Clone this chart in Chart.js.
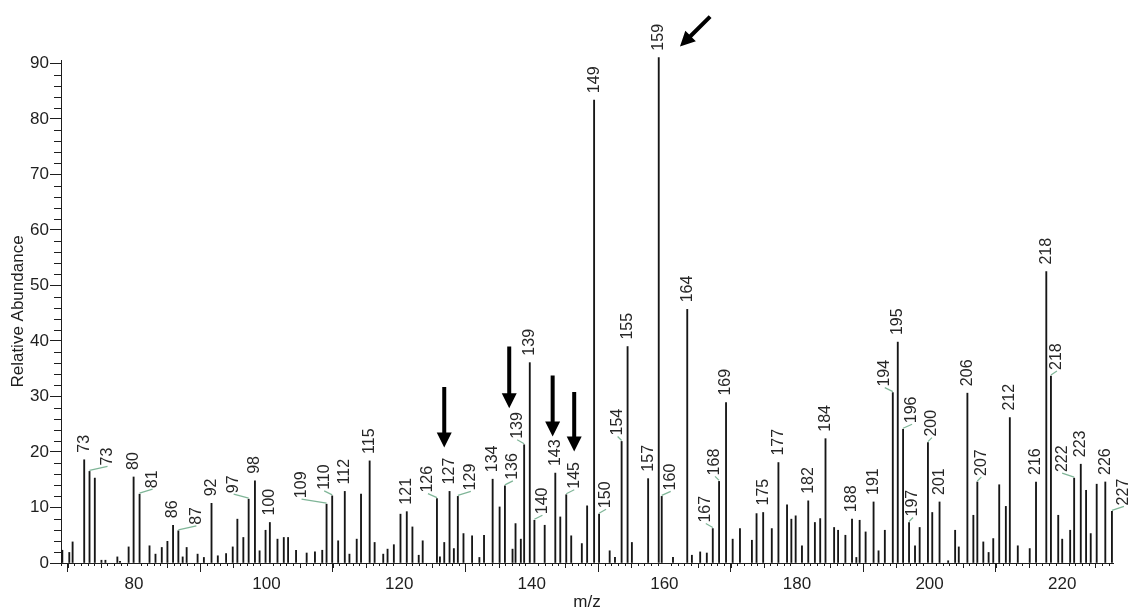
<!DOCTYPE html>
<html>
<head>
<meta charset="utf-8">
<title>Mass spectrum</title>
<script src="https://cdn.jsdelivr.net/npm/chart.js@4.4.1/dist/chart.umd.min.js"></script>
<style>
  html, body { margin: 0; padding: 0; background: #fff; }
  #chart { display: block; }
</style>
</head>
<body>
<canvas id="chart" width="1128" height="611"></canvas>
<script>
// peak positions (m/z) and heights (relative abundance)
const mz = [
  69.2, 70.25, 70.75, 72.5, 73.3, 74.1, 75.1, 75.7, 77.5, 77.9,
  79.2, 79.95, 80.85, 82.35, 83.25, 84.2, 85.05, 85.9, 86.7, 87.35,
  87.95, 89.6, 90.55, 91.7, 92.65, 93.9, 94.9, 95.6, 96.5, 97.3,
  98.25, 98.95, 99.85, 100.5, 101.65, 102.6, 103.25, 104.45, 106.05, 107.3,
  108.4, 109.05, 109.9, 110.8, 111.8, 112.5, 113.6, 114.25, 115.55, 116.3,
  117.6, 118.25, 119.2, 120.2, 121.15, 122.0, 122.95, 123.55, 125.7, 126.15,
  126.8, 127.6, 128.25, 128.85, 129.7, 131.0, 132.1, 132.8, 134.1, 135.15,
  135.95, 137.1, 137.55, 138.35, 138.85, 139.7, 140.4, 141.95, 143.55, 144.3,
  145.2, 145.95, 147.55, 148.35, 149.4, 150.15, 151.75, 152.55, 153.55, 154.45,
  155.1, 157.55, 159.15, 159.6, 161.3, 163.45, 164.15, 165.4, 166.4, 167.3,
  168.25, 169.3, 170.3, 171.4, 173.2, 173.9, 174.9, 176.2, 177.2, 178.5,
  179.15, 179.8, 180.75, 181.7, 182.7, 183.5, 184.3, 185.6, 186.2, 187.3,
  188.3, 188.95, 189.45, 190.35, 191.55, 192.3, 193.25, 194.45, 195.2, 196.0,
  196.9, 197.8, 198.5, 199.75, 200.4, 201.5, 202.8, 203.85, 204.4, 205.7,
  206.6, 207.2, 208.1, 208.9, 209.6, 210.5, 211.5, 212.1, 213.3, 215.1,
  216.05, 217.6, 218.3, 219.4, 220.0, 221.2, 221.8, 222.8, 223.6, 224.3,
  225.2, 226.5, 227.5
];
const abundance = [
  2.3, 1.9, 3.8, 18.6, 16.5, 15.3, 0.5, 0.5, 1.1, 0.3,
  2.9, 15.5, 12.4, 3.1, 1.6, 2.8, 3.9, 6.8, 5.8, 1.1,
  2.8, 1.6, 1.0, 10.75, 1.3, 1.7, 2.9, 7.9, 4.6, 11.5,
  14.8, 2.2, 5.9, 7.3, 4.3, 4.6, 4.6, 2.3, 1.8, 2.0,
  2.3, 10.6, 12.1, 4.0, 12.9, 1.6, 4.3, 12.4, 18.4, 3.7,
  1.6, 2.5, 3.3, 8.8, 9.25, 6.5, 1.4, 4.0, 11.6, 1.1,
  3.7, 12.9, 2.6, 12.0, 5.3, 4.9, 1.0, 5.0, 15.1, 10.1,
  13.9, 2.5, 7.1, 4.3, 21.3, 36.1, 7.7, 6.8, 16.2, 8.3,
  12.3, 4.9, 3.5, 10.3, 83.4, 8.8, 2.2, 1.0, 21.9, 39.0,
  3.7, 15.2, 91.05, 12.0, 1.0, 45.7, 1.4, 2.0, 1.8, 6.2,
  14.7, 28.9, 4.3, 6.2, 4.1, 8.9, 9.1, 6.2, 18.1, 10.5,
  7.9, 8.5, 3.1, 11.2, 7.3, 8.0, 22.4, 6.4, 5.9, 5.0,
  7.9, 1.0, 7.7, 5.6, 11.0, 2.2, 5.9, 30.7, 39.8, 24.1,
  7.3, 3.1, 6.4, 21.7, 9.1, 11.0, 0.4, 5.9, 2.9, 30.6,
  8.6, 14.6, 3.8, 1.9, 4.4, 14.1, 10.2, 26.2, 3.1, 2.6,
  14.6, 52.5, 33.7, 8.6, 4.3, 5.9, 15.3, 17.8, 13.1, 5.3,
  14.2, 14.6, 9.3
];

// annotated peaks and the text printed above them
const labelMz = [
  72.5, 73.3, 79.95, 80.85, 85.9, 86.7, 91.7, 97.3, 98.25, 100.5,
  109.05, 109.9, 111.8, 115.55, 121.15, 125.7, 127.6, 128.85, 134.1, 135.95,
  138.85, 139.7, 140.4, 143.55, 145.2, 149.4, 150.15, 153.55, 154.45, 157.55,
  159.15, 159.6, 163.45, 167.3, 168.25, 169.3, 174.9, 177.2, 181.7, 184.3,
  188.3, 191.55, 194.45, 195.2, 196.0, 196.9, 199.75, 201.5, 205.7, 207.2,
  212.1, 216.05, 217.6, 218.3, 221.8, 222.8, 226.5, 227.5
];
const labelText = [
  "73", "73", "80", "81", "86", "87", "92", "97", "98", "100",
  "109", "110", "112", "115", "121", "126", "127", "129", "134", "136",
  "139", "139", "140", "143", "145", "149", "150", "154", "155", "157",
  "159", "160", "164", "167", "168", "169", "175", "177", "182", "184",
  "188", "191", "194", "195", "196", "197", "200", "201", "206", "207",
  "212", "216", "218", "218", "222", "223", "226", "227"
];

// black arrows, tail -> head (m/z, abundance)
const arrowTailX = [126.8, 136.6, 143.15, 146.4, 166.9];
const arrowTailY = [31.7, 39.0, 33.8, 30.8, 98.45];
const arrowHeadX = [126.8, 136.6, 143.15, 146.4, 162.35];
const arrowHeadY = [20.8, 27.9, 22.8, 20.1, 93.05];

// labels pushed sideways (px) and tied to their peak with a green leader
const leaderShift = {
  73.3: 18, 80.85: 13, 86.7: 18, 97.3: -15, 109.05: -25, 109.9: -8,
  125.7: -9, 128.85: 13, 135.95: 8, 138.85: -7, 140.4: 8, 145.2: 8,
  150.15: 7, 153.55: -4, 159.6: 9, 167.3: -7, 168.25: -4, 194.45: -8,
  196: 9, 196.9: 4, 199.75: 4, 207.2: 4, 218.3: 6, 221.8: -12, 227.5: 12
};

const FONT = '"Liberation Sans", Arial, sans-serif';
const INK = "#1e1e1e";

/* minor / medium tick marks on both axes */
const minorTicks = {
  id: "minorTicks",
  afterDraw(chart) {
    const { ctx, chartArea: a, scales: { x, y } } = chart;
    ctx.save();
    ctx.strokeStyle = INK;
    ctx.lineWidth = 1;
    ctx.beginPath();
    for (let m = Math.ceil(x.min); m <= x.max; m++) {
      if (m % 20 === 0) continue;
      const len = m % 5 === 0 ? 5 : 3;
      const px = Math.round(x.getPixelForValue(m)) + 0.5;
      ctx.moveTo(px, a.bottom);
      ctx.lineTo(px, a.bottom + len);
    }
    for (let v = 2; v <= y.max; v += 2) {
      if (v % 10 === 0) continue;
      const py = Math.round(y.getPixelForValue(v)) + 0.5;
      ctx.moveTo(a.left - 7, py);
      ctx.lineTo(a.left, py);
    }
    ctx.stroke();
    ctx.restore();
  }
};

/* vertical peak labels, some with green leader lines */
const peakLabels = {
  id: "peakLabels",
  afterDatasetsDraw(chart) {
    const { ctx, scales: { x, y } } = chart;
    ctx.save();
    ctx.font = "16px " + FONT;
    ctx.fillStyle = "#262626";
    ctx.textAlign = "left";
    ctx.textBaseline = "middle";
    labelMz.forEach((m, i) => {
      const px = x.getPixelForValue(m);
      const top = y.getPixelForValue(abundance[mz.indexOf(m)]);
      const shift = leaderShift[m] || 0;
      const lx = px + shift;
      let base = top - 7;
      if (shift) {
        base = top - 6;
        ctx.strokeStyle = "#7fb597";
        ctx.lineWidth = 1.2;
        ctx.beginPath();
        ctx.moveTo(px, top - 1);
        ctx.lineTo(lx, top - 5);
        ctx.stroke();
      }
      ctx.save();
      ctx.translate(lx, base);
      ctx.rotate(-Math.PI / 2);
      ctx.fillText(labelText[i], 0, 0);
      ctx.restore();
    });
    ctx.restore();
  }
};

/* thick black annotation arrows */
const arrows = {
  id: "arrows",
  afterDraw(chart) {
    const { ctx, scales: { x, y } } = chart;
    ctx.save();
    ctx.fillStyle = "#000";
    arrowTailX.forEach((tx, i) => {
      const x1 = x.getPixelForValue(tx), y1 = y.getPixelForValue(arrowTailY[i]);
      const x2 = x.getPixelForValue(arrowHeadX[i]), y2 = y.getPixelForValue(arrowHeadY[i]);
      const len = Math.hypot(x2 - x1, y2 - y1);
      const head = 15, half = 7.5, shaft = 2;
      ctx.save();
      ctx.translate(x1, y1);
      ctx.rotate(Math.atan2(y2 - y1, x2 - x1));
      ctx.beginPath();
      ctx.moveTo(0, -shaft);
      ctx.lineTo(len - head, -shaft);
      ctx.lineTo(len - head, -half);
      ctx.lineTo(len, 0);
      ctx.lineTo(len - head, half);
      ctx.lineTo(len - head, shaft);
      ctx.lineTo(0, shaft);
      ctx.closePath();
      ctx.fill();
      ctx.restore();
    });
    ctx.restore();
  }
};

const ctx = document.getElementById("chart").getContext("2d");
new Chart(ctx, {
  type: "bar",
  data: {
    datasets: [{
      data: mz.map((m, i) => ({ x: m, y: abundance[i] })),
      backgroundColor: "#161616",
      borderWidth: 0,
      barThickness: 1.2,
      clip: false,
    }],
  },
  options: {
    responsive: false,
    animation: false,
    events: [],
    layout: { padding: { top: 60, right: 15, left: 0, bottom: 0 } },
    plugins: { legend: { display: false }, tooltip: { enabled: false } },
    scales: {
      x: {
        type: "linear",
        min: 69,
        max: 227.66,
        offset: false,
        border: { color: INK, width: 1 },
        grid: { display: true, drawOnChartArea: false, tickLength: 9, color: INK },
        ticks: {
          stepSize: 20, includeBounds: false, maxRotation: 0, padding: 2,
          color: INK, font: { family: FONT, size: 17 },
        },
        title: {
          display: true, text: "m/z", color: INK,
          font: { family: FONT, size: 17, lineHeight: 1 }, padding: { top: 0, bottom: 0 },
        },
        afterFit: (s) => { s.height = 48; },
      },
      y: {
        min: 0,
        max: 90.63,
        border: { color: INK, width: 1 },
        grid: { display: true, drawOnChartArea: false, tickLength: 11, color: INK },
        ticks: {
          stepSize: 10, includeBounds: false, padding: 1,
          color: INK, font: { family: FONT, size: 17 },
        },
        title: {
          display: true, text: "Relative Abundance", color: INK,
          font: { family: FONT, size: 17, lineHeight: 1 }, padding: { top: 10, bottom: 0 },
        },
        afterFit: (s) => { s.width = 61; },
      },
    },
  },
  plugins: [minorTicks, peakLabels, arrows],
});
</script>
</body>
</html>
